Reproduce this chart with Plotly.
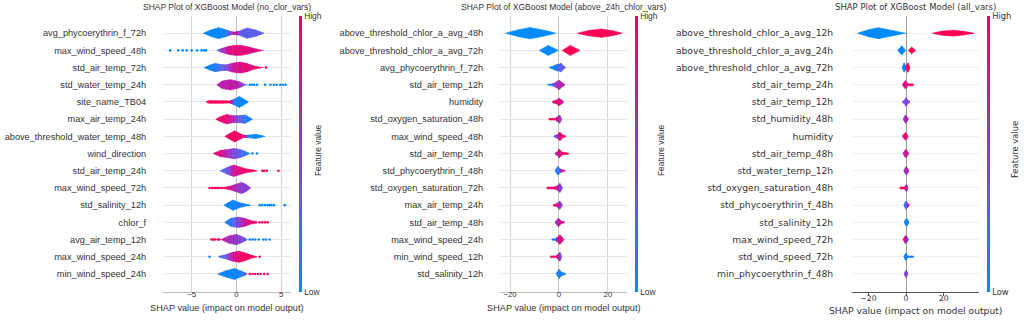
import plotly.graph_objects as go

# ---------------- DATA ----------------
# Panel 1: no_clor_vars
p1_features = ["avg_phycoerythrin_f_72h", "max_wind_speed_48h", "std_air_temp_72h", "std_water_temp_24h",
               "site_name_TB04", "max_air_temp_24h", "above_threshold_water_temp_48h", "wind_direction",
               "std_air_temp_24h", "max_wind_speed_72h", "std_salinity_12h", "chlor_f", "avg_air_temp_12h",
               "max_wind_speed_24h", "min_wind_speed_24h"]
p1_x = [[-3.7, -2.9, -2.0, -1.2, -0.5, -0.1, 0.3, 1.2, 2.2, 3.1],
        [-2.2, -1.6, -0.8, 0.0, 0.8, 1.8, 2.95],
        [-3.6, -3.0, -2.4, -1.7, -1.1, -0.4, 0.4, 1.2, 1.9, 2.5, 3.0],
        [-2.2, -1.6, -0.7, 0.2, 1.0, 1.3],
        [-3.4, -3.0, -1.5, -0.7, -0.3, 0.35, 0.9, 1.35],
        [-2.3, -1.8, -1.1, -0.4, 0.2, 1.0, 1.8],
        [-1.3, -0.2, 0.9, 1.2, 2.2, 3.2],
        [-2.6, -1.8, -0.9, -0.3, 0.4, 1.0, 1.5],
        [-1.8, -1.0, -0.3, 0.4, 1.0, 1.7, 2.3],
        [-3.0, -2.0, -1.2, -0.6, 0.0, 0.6, 1.1, 1.6],
        [-1.4, -0.4, 0.5, 1.2, 1.6],
        [-1.3, -0.6, 0.2, 0.9, 1.6, 2.3],
        [-1.7, -0.8, 0.0, 0.6, 1.2],
        [-2.0, -1.2, -0.4, 0.3, 1.0, 1.7, 2.3],
        [-2.1, -1.2, -0.2, 0.6, 1.2]]
p1_w = [[0.0, 0.18, 0.32, 0.2, 0.08, 0.07, 0.12, 0.3, 0.18, 0.0],
        [0.0, 0.12, 0.24, 0.3, 0.27, 0.14, 0.0],
        [0.0, 0.14, 0.24, 0.18, 0.16, 0.26, 0.32, 0.24, 0.1, 0.04, 0.0],
        [0.0, 0.22, 0.3, 0.2, 0.02, 0.0],
        [0.02, 0.08, 0.07, 0.06, 0.15, 0.32, 0.15, 0.0],
        [0.0, 0.14, 0.27, 0.2, 0.2, 0.24, 0.0],
        [0.0, 0.32, 0.05, 0.07, 0.12, 0.0],
        [0.0, 0.18, 0.24, 0.3, 0.24, 0.12, 0.0],
        [0.0, 0.2, 0.33, 0.22, 0.12, 0.06, 0.02],
        [0.02, 0.04, 0.05, 0.12, 0.22, 0.33, 0.2, 0.0],
        [0.0, 0.3, 0.12, 0.04, 0.02],
        [0.0, 0.24, 0.3, 0.24, 0.1, 0.04],
        [0.0, 0.22, 0.3, 0.18, 0.02],
        [0.02, 0.12, 0.26, 0.32, 0.22, 0.08, 0.02],
        [0.0, 0.18, 0.32, 0.15, 0.02]]
p1_c = [[0.02, 0.02, 0.02, 0.05, 0.5, 0.85, 0.35, 0.3, 0.3, 0.3],
        [0.2, 0.55, 0.85, 0.88, 0.88, 0.85, 0.8],
        [0.05, 0.05, 0.1, 0.25, 0.45, 0.75, 0.85, 0.88, 0.9, 0.95, 0.95],
        [0.65, 0.7, 0.72, 0.7, 0.3, 0.05],
        [1.0, 1.0, 1.0, 0.95, 0.1, 0.02, 0.02, 0.02],
        [0.95, 0.92, 0.88, 0.7, 0.4, 0.08, 0.05],
        [0.95, 0.95, 0.9, 0.05, 0.02, 0.02],
        [0.9, 0.85, 0.6, 0.45, 0.3, 0.1, 0.05],
        [0.15, 0.35, 0.75, 0.9, 0.92, 0.95, 0.95],
        [0.95, 0.95, 0.92, 0.8, 0.6, 0.5, 0.5, 0.5],
        [0.05, 0.05, 0.08, 0.05, 0.05],
        [0.05, 0.15, 0.45, 0.75, 0.9, 0.95],
        [0.75, 0.6, 0.55, 0.45, 0.2],
        [0.1, 0.35, 0.75, 0.92, 0.95, 0.95, 0.95],
        [0.1, 0.05, 0.03, 0.1, 0.4]]
p1_dx = [[], [-7.4, -6.5, -6.0, -5.55, -5.0, -4.4, -3.9, -3.6, -3.4], [3.3],
         [1.5, 1.75, 2.0, 2.3, 3.2, 3.8, 4.2, 4.5, 4.9, 5.2, 5.5], [], [], [], [1.8, 2.3],
         [2.9, 3.1, 3.4, 4.7], [-3.0, -2.7, -2.4, -2.1], [2.6, 2.9, 3.2, 3.5, 3.7, 3.9, 4.2, 5.4],
         [2.6, 2.9, 3.2, 3.5],
         [-2.8, -2.6, -2.4, -2.1, -1.9, 1.5, 1.8, 2.1, 2.5, 3.0, 3.3, 3.7], [-3.0, 2.6],
         [1.5, 1.8, 2.1, 2.4, 2.7, 3.1, 3.5]]
p1_dc = [[], [0.0] * 9, [1.0], [0.0] * 11, [], [], [], [0.05, 0.05],
         [0.95] * 4, [0.95] * 4, [0.02] * 8, [0.95] * 4,
         [0.95] * 5 + [0.05] * 7, [0.05, 0.95], [0.9] * 7]

# Panel 2: above_24h_chlor_vars
p2_features = ["above_threshold_chlor_a_avg_48h", "above_threshold_chlor_a_avg_72h", "avg_phycoerythrin_f_72h",
               "std_air_temp_12h", "humidity", "std_oxygen_saturation_48h", "max_wind_speed_48h",
               "std_air_temp_24h", "std_phycoerythrin_f_48h", "std_oxygen_saturation_72h", "max_air_temp_24h",
               "std_air_temp_48h", "max_wind_speed_24h", "min_wind_speed_12h", "std_salinity_12h"]
p2_x = [[-21.8, -16.5, -11.8, -6.0, -1.3, 7.5, 12.0, 17.4, 22.0, 25.8],
        [-8.0, -4.4, -0.3, 1.35, 4.6, 8.6],
        [-4.1, -2.8, -1.5, -0.6, 0.2, 0.8, 1.6, 2.7],
        [-4.9, -3.0, -1.8, 0.1, 1.5, 2.5],
        [-2.6, -1.2, 0.1, 1.0, 1.9],
        [-4.1, -1.2, -0.8, 0.3, 1.1],
        [-2.0, -0.6, 0.4, 1.3, 2.7],
        [-1.6, -0.5, 0.1, 1.0, 2.0, 3.9],
        [-1.6, -0.5, 0.6, 1.2, 2.4],
        [-4.9, -2.0, -0.9, 0.4, 1.5],
        [-2.3, -0.8, 0.3, 1.5],
        [-1.6, -0.2, 0.8, 2.2],
        [-2.9, -1.2, -0.6, 0.4, 1.2, 1.9],
        [-3.5, -1.0, -0.4, 0.4, 1.1],
        [-1.2, 0.1, 1.0, 2.7]]
p2_w = [[0.0, 0.2, 0.33, 0.17, 0.0, 0.0, 0.15, 0.24, 0.14, 0.0],
        [0.0, 0.29, 0.0, 0.0, 0.29, 0.0],
        [0.02, 0.06, 0.15, 0.2, 0.2, 0.26, 0.12, 0.0],
        [0.02, 0.05, 0.1, 0.27, 0.1, 0.0],
        [0.04, 0.1, 0.22, 0.12, 0.02],
        [0.05, 0.05, 0.12, 0.24, 0.0],
        [0.03, 0.1, 0.25, 0.1, 0.03],
        [0.02, 0.12, 0.26, 0.1, 0.06, 0.04],
        [0.02, 0.25, 0.1, 0.06, 0.03],
        [0.05, 0.06, 0.1, 0.26, 0.0],
        [0.05, 0.08, 0.24, 0.0],
        [0.02, 0.25, 0.08, 0.03],
        [0.04, 0.05, 0.14, 0.27, 0.14, 0.02],
        [0.05, 0.05, 0.14, 0.26, 0.0],
        [0.02, 0.27, 0.1, 0.03]]
p2_c = [[0.0, 0.0, 0.0, 0.0, 0.0, 1.0, 1.0, 1.0, 1.0, 1.0],
        [0.0, 0.0, 0.0, 1.0, 1.0, 1.0],
        [0.02, 0.03, 0.05, 0.1, 0.3, 0.32, 0.32, 0.32],
        [0.05, 0.1, 0.5, 0.68, 0.7, 0.7],
        [0.9, 0.88, 0.85, 0.8, 0.75],
        [0.95, 0.95, 0.7, 0.55, 0.5],
        [0.1, 0.6, 0.85, 0.9, 0.9],
        [0.4, 0.8, 0.85, 0.9, 0.95, 0.95],
        [0.1, 0.1, 0.3, 0.85, 0.9],
        [0.95, 0.9, 0.8, 0.45, 0.4],
        [0.95, 0.85, 0.5, 0.45],
        [0.5, 0.7, 0.85, 0.9],
        [0.05, 0.1, 0.7, 0.85, 0.85, 0.85],
        [0.95, 0.9, 0.7, 0.45, 0.4],
        [0.1, 0.05, 0.05, 0.05]]

# Panel 3: all_vars
p3_features = ["above_threshold_chlor_a_avg_12h", "above_threshold_chlor_a_avg_24h", "above_threshold_chlor_a_avg_72h",
               "std_air_temp_24h", "std_air_temp_12h", "std_humidity_48h", "humidity", "std_air_temp_48h",
               "std_water_temp_12h", "std_oxygen_saturation_48h", "std_phycoerythrin_f_48h", "std_salinity_12h",
               "max_wind_speed_72h", "std_wind_speed_72h", "min_phycoerythrin_f_48h"]
p3_x = [[-25.7, -20.0, -14.7, -7.0, -0.2, 14.0, 19.0, 25.3, 31.0, 36.3],
        [-4.4, -2.3, -0.2, 1.2, 3.0, 5.2],
        [-2.0, -1.0, 0.0, 0.0, 1.0, 2.1],
        [-2.0, -0.3, 1.0, 3.9],
        [-2.0, -0.8, 0.0, 0.9, 2.1],
        [-1.4, -0.2, 1.2],
        [-2.0, -0.3, 1.2],
        [-1.6, -0.1, 1.4],
        [-1.2, 0.1, 1.5],
        [-3.2, -0.6, -0.3, 0.3, 1.0],
        [-1.2, 0.0, 1.0, 1.8],
        [-1.0, 0.3, 1.6],
        [-1.5, -0.3, 0.5, 1.3],
        [-1.2, 0.0, 0.6, 1.2, 3.9],
        [-1.0, 0.1, 1.0]]
p3_w = [[0.0, 0.2, 0.32, 0.15, 0.0, 0.0, 0.12, 0.17, 0.1, 0.0],
        [0.0, 0.27, 0.0, 0.0, 0.19, 0.0],
        [0.0, 0.27, 0.06, 0.08, 0.27, 0.0],
        [0.02, 0.24, 0.06, 0.05],
        [0.02, 0.1, 0.26, 0.1, 0.02],
        [0.02, 0.24, 0.02],
        [0.02, 0.22, 0.02],
        [0.02, 0.24, 0.02],
        [0.02, 0.24, 0.02],
        [0.06, 0.06, 0.1, 0.22, 0.02],
        [0.02, 0.24, 0.08, 0.02],
        [0.02, 0.25, 0.02],
        [0.02, 0.22, 0.15, 0.02],
        [0.02, 0.22, 0.06, 0.05, 0.04],
        [0.02, 0.22, 0.02]]
p3_c = [[0.0, 0.0, 0.0, 0.0, 0.02, 1.0, 1.0, 1.0, 1.0, 1.0],
        [0.02, 0.02, 0.02, 1.0, 1.0, 1.0],
        [0.02, 0.02, 0.05, 0.95, 0.98, 1.0],
        [0.8, 0.85, 0.92, 0.95],
        [0.3, 0.4, 0.45, 0.5, 0.6],
        [0.35, 0.6, 0.85],
        [0.85, 0.88, 0.9],
        [0.6, 0.75, 0.85],
        [0.55, 0.6, 0.8],
        [0.95, 0.95, 0.7, 0.45, 0.4],
        [0.15, 0.2, 0.6, 0.8],
        [0.05, 0.05, 0.1],
        [0.9, 0.8, 0.2, 0.1],
        [0.1, 0.05, 0.05, 0.05, 0.05],
        [0.45, 0.45, 0.5]]

titles = ["SHAP Plot of XGBoost Model (no_clor_vars)",
          "SHAP Plot of XGBoost Model (above_24h_chlor_vars)",
          "SHAP Plot of XGBoost Model (all_vars)"]
x_ranges = [[-8.2, 6.1], [-24.1, 27.8], [-28.7, 38.8]]
x_ticks = [[-5, 0, 5], [-20, 0, 20], [-20, 0, 20]]
xlabel = "SHAP value (impact on model output)"
cbar_label = "Feature value"

# ---------------- STYLE / LAYOUT ----------------
W, H = 1024, 321
STOPS = [(0.0, (0, 139, 251)), (0.25, (78, 104, 242)), (0.5, (136, 64, 212)),
         (0.75, (198, 22, 162)), (1.0, (255, 0, 82))]
COLORSCALE = [[s, "rgb(%d,%d,%d)" % c] for s, c in STOPS]


def cmap(v):
    v = min(1.0, max(0.0, v))
    for (s0, c0), (s1, c1) in zip(STOPS[:-1], STOPS[1:]):
        if v <= s1:
            t = (v - s0) / (s1 - s0) if s1 > s0 else 0
            return "rgb(%d,%d,%d)" % tuple(round(a + (b - a) * t) for a, b in zip(c0, c1))
    return "rgb(%d,%d,%d)" % STOPS[-1][1]


x_px = [(163, 291), (500, 627), (852, 979)]
cbar_px = [299, 635, 987]
flabel_px = [318, 661, 1015]
y_top_px, y_bot_px = 16, 292
fonts = ["Liberation Sans", "Liberation Sans", "DejaVu Sans"]
TXT = "#333333"

fig = go.Figure()
panels = [(p1_features, p1_x, p1_w, p1_c, p1_dx, p1_dc),
          (p2_features, p2_x, p2_w, p2_c, None, None),
          (p3_features, p3_x, p3_w, p3_c, None, None)]

for k, (feats, X, Wd, C, DX, DC) in enumerate(panels):
    sfx = "" if k == 0 else str(k + 1)
    xa, ya = "x" + sfx, "y" + sfx
    ca = "coloraxis" + sfx
    n = len(feats)
    groups = {}
    for i in range(n):
        yc = n - 1 - i
        xs, ws, cs = X[i], Wd[i], C[i]
        for j in range(len(xs) - 1):
            if ws[j] == 0 and ws[j + 1] == 0:
                continue
            if xs[j + 1] <= xs[j]:
                continue
            nsub = int(abs(cs[j + 1] - cs[j]) * 14) + 2
            for s in range(nsub):
                t0, t1 = s / nsub, (s + 1) / nsub
                xa0 = xs[j] + (xs[j + 1] - xs[j]) * t0
                xa1 = xs[j] + (xs[j + 1] - xs[j]) * t1
                w0 = ws[j] + (ws[j + 1] - ws[j]) * t0
                w1 = ws[j] + (ws[j + 1] - ws[j]) * t1
                cv = cs[j] + (cs[j + 1] - cs[j]) * (t0 + t1) / 2
                key = round(cv * 40)
                gx, gy = groups.setdefault(key, ([], []))
                gx += [xa0, xa1, xa1, xa0, xa0, None]
                gy += [yc + w0, yc + w1, yc - w1, yc - w0, yc + w0, None]
    for key in sorted(groups):
        gx, gy = groups[key]
        col = cmap(key / 40)
        fig.add_trace(go.Scatter(x=gx, y=gy, mode="lines", fill="toself", fillcolor=col,
                                 line=dict(color=col, width=0.6), hoverinfo="skip",
                                 showlegend=False, xaxis=xa, yaxis=ya))
    if DX is not None:
        px_, py_, pc_ = [], [], []
        for i in range(n):
            for xv, cv in zip(DX[i], DC[i]):
                px_.append(xv)
                py_.append(n - 1 - i)
                pc_.append(cv)
        fig.add_trace(go.Scatter(x=px_, y=py_, mode="markers",
                                 marker=dict(size=2.6, color=pc_, coloraxis=ca, line=dict(width=0)),
                                 hoverinfo="skip", showlegend=False, xaxis=xa, yaxis=ya))
    # dummy to show colorbar
    fig.add_trace(go.Scatter(x=[None], y=[None], mode="markers",
                             marker=dict(size=1, color=[0.5], coloraxis=ca),
                             hoverinfo="skip", showlegend=False, xaxis=xa, yaxis=ya))

    fam = fonts[k]
    x0, x1 = x_px[k]
    dom_y = [(H - y_bot_px) / H, (H - y_top_px) / H]
    is3 = (k == 2)
    fig.layout["xaxis" + sfx] = dict(
        domain=[x0 / W, x1 / W], range=x_ranges[k], anchor=ya,
        tickvals=x_ticks[k], ticks="outside" if is3 else "", ticklen=3, tickcolor="#555",
        ticklabelstandoff=-4 if is3 else -5,
        showgrid=not is3, gridcolor="#d6d6d6", gridwidth=1,
        zeroline=True, zerolinecolor="#999999" if is3 else "#c4c4c4", zerolinewidth=1,
        showline=True, linecolor="#555555" if is3 else "#bdbdbd", linewidth=1,
        tickfont=dict(family=fam, size=7.8, color=TXT), fixedrange=True)
    fig.layout["yaxis" + sfx] = dict(
        domain=dom_y, range=[-1.05, 15.0], anchor=xa,
        tickvals=list(range(n)), ticktext=list(reversed(feats)),
        ticks="outside", ticklen=14 if not is3 else 16, tickcolor="rgba(0,0,0,0)",
        showgrid=True, gridcolor="#f0f0f0" if is3 else "#e6e6e6", gridwidth=1,
        zeroline=False, showline=False,
        tickfont=dict(family=fam, size=9.2, color=TXT), fixedrange=True)
    fig.layout[ca] = dict(
        cmin=0, cmax=1, colorscale=COLORSCALE,
        colorbar=dict(x=cbar_px[k] / W, xanchor="left", xref="paper", xpad=0, ypad=0,
                      y=(H - (y_top_px + y_bot_px) / 2) / H, yanchor="middle",
                      lenmode="pixels", len=y_bot_px - y_top_px, thickness=3,
                      outlinewidth=0, tickvals=[0, 1], ticktext=["Low", "High"], ticks="",
                      tickfont=dict(family=fam, size=8.4, color=TXT)))
    cx = (x0 + x1) / 2 / W
    fig.add_annotation(text=titles[k], x=cx, xref="paper", y=(H - 7.5) / H, yref="paper",
                       xanchor="center", yanchor="middle", showarrow=False,
                       font=dict(family=fam, size=8.5, color=TXT))
    fig.add_annotation(text=xlabel, x=cx, xref="paper",
                       y=(H - (310.5 if is3 else 307.5)) / H, yref="paper",
                       xanchor="center", yanchor="middle", showarrow=False,
                       font=dict(family=fam, size=9.2, color=TXT))
    fig.add_annotation(text=cbar_label, x=flabel_px[k] / W, xref="paper", y=(H - 150) / H, yref="paper",
                       xanchor="center", yanchor="middle", showarrow=False, textangle=-90,
                       font=dict(family=fam, size=8.4, color=TXT))

fig.update_layout(width=W, height=H, margin=dict(l=0, r=0, t=0, b=0),
                  paper_bgcolor="white", plot_bgcolor="white", showlegend=False)
fig.write_html("out.html", config={"displayModeBar": False})
